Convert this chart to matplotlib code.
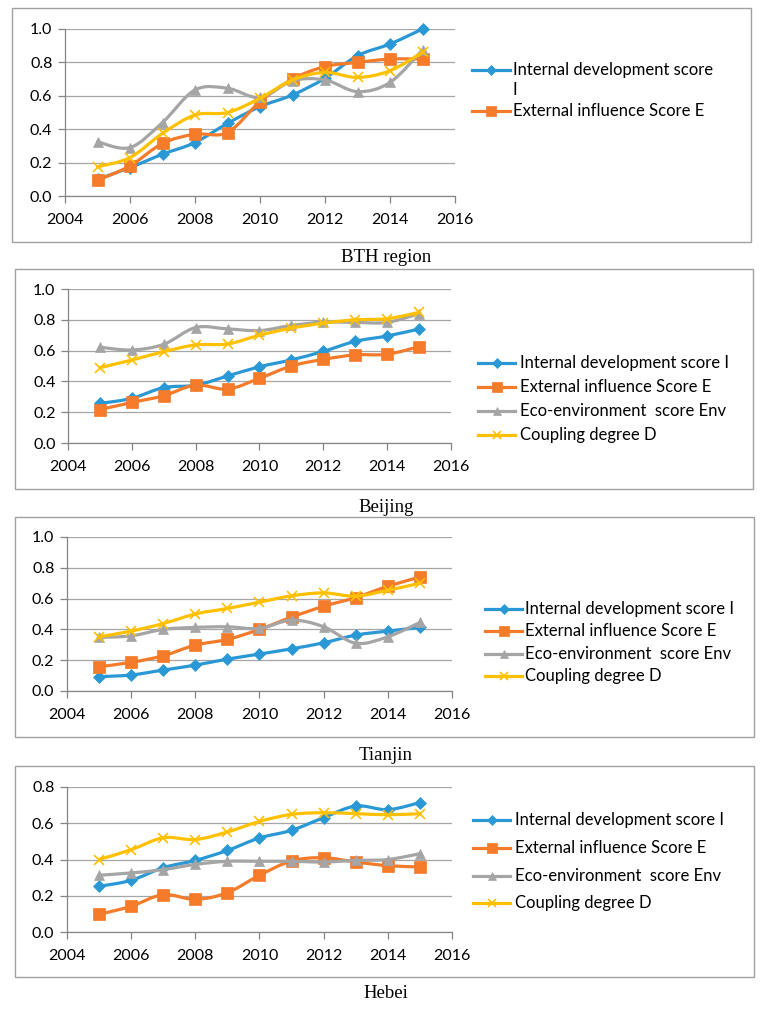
import numpy as np
import matplotlib
matplotlib.use('Agg')
import matplotlib.pyplot as plt
from matplotlib.path import Path
from matplotlib.patches import PathPatch, Rectangle
from matplotlib.lines import Line2D

plt.rcParams['font.family'] = ['Lato', 'DejaVu Sans']

years = [2005, 2006, 2007, 2008, 2009, 2010, 2011, 2012, 2013, 2014, 2015]

# BTH region
bth_I = [0.10, 0.17, 0.25, 0.32, 0.435, 0.535, 0.605, 0.705, 0.84, 0.91, 1.00]
bth_E = [0.095, 0.18, 0.315, 0.37, 0.38, 0.565, 0.70, 0.775, 0.80, 0.82, 0.82]
bth_Env = [0.325, 0.29, 0.44, 0.635, 0.645, 0.59, 0.69, 0.695, 0.625, 0.68, 0.875]
bth_D = [0.175, 0.23, 0.375, 0.485, 0.50, 0.585, 0.695, 0.74, 0.71, 0.75, 0.86]

# Beijing
bj_I = [0.257, 0.29, 0.36, 0.375, 0.435, 0.495, 0.54, 0.595, 0.66, 0.695, 0.74]
bj_E = [0.217, 0.263, 0.307, 0.376, 0.35, 0.42, 0.50, 0.543, 0.572, 0.576, 0.626]
bj_Env = [0.622, 0.604, 0.641, 0.75, 0.741, 0.73, 0.763, 0.785, 0.783, 0.783, 0.84]
bj_D = [0.489, 0.539, 0.593, 0.637, 0.643, 0.70, 0.746, 0.778, 0.80, 0.807, 0.848]

# Tianjin
tj_I = [0.093, 0.104, 0.136, 0.168, 0.207, 0.24, 0.274, 0.313, 0.363, 0.389, 0.413]
tj_E = [0.158, 0.186, 0.229, 0.298, 0.335, 0.40, 0.48, 0.55, 0.607, 0.68, 0.74]
tj_Env = [0.348, 0.358, 0.40, 0.413, 0.417, 0.406, 0.46, 0.417, 0.31, 0.352, 0.445]
tj_D = [0.352, 0.389, 0.438, 0.50, 0.536, 0.577, 0.618, 0.637, 0.616, 0.654, 0.70]

# Hebei
hb_I = [0.252, 0.285, 0.355, 0.395, 0.45, 0.519, 0.561, 0.631, 0.695, 0.675, 0.714]
hb_E = [0.097, 0.142, 0.206, 0.18, 0.217, 0.313, 0.392, 0.41, 0.386, 0.366, 0.359]
hb_Env = [0.313, 0.326, 0.344, 0.373, 0.39, 0.39, 0.39, 0.386, 0.395, 0.40, 0.432]
hb_D = [0.40, 0.454, 0.52, 0.51, 0.552, 0.61, 0.649, 0.658, 0.653, 0.647, 0.653]

names = ['Internal development score I', 'External influence Score E',
         'Eco-environment  score Env', 'Coupling degree D']
colors = ['#2B98D6', '#F47B2A', '#A5A5A5', '#FFC000']
markers = ['D', 's', '^', 'x']
msizes = [6, 8, 7.5, 7]

W, H = 765, 1011

def fx(px):
    return px / W

def fy(py):
    return 1 - py / H

# Excel style smoothed line: bezier segments through the points
def smooth_path(x, y):
    pts = np.column_stack([x, y]).astype(float)
    n = len(pts)
    verts = [pts[0]]
    codes = [Path.MOVETO]
    for i in range(n - 1):
        p0 = pts[max(i - 1, 0)]
        p1 = pts[i]
        p2 = pts[i + 1]
        p3 = pts[min(i + 2, n - 1)]
        verts += [p1 + (p2 - p0) / 6, p2 - (p3 - p1) / 6, p2]
        codes += [Path.CURVE4] * 3
    return Path(verts, codes)

fig = plt.figure(figsize=(W / 100, H / 100), dpi=100)

# panel layout in pixels: box, axes, legend, caption
panels = [
    dict(series=[bth_I, bth_E, bth_Env, bth_D], box=(12, 8, 751, 242),
         ax=(65, 29, 455, 196), ytop=1.0, caption='BTH region', cap_y=258,
         leg_x=(472, 510, 513), leg_rows=[70, 111], leg_n=2),
    dict(series=[bj_I, bj_E, bj_Env, bj_D], box=(15, 269, 753, 489),
         ax=(68, 289, 451, 443), ytop=1.0, caption='Beijing', cap_y=507,
         leg_x=(478, 515, 520), leg_rows=[363, 387, 411, 435], leg_n=4),
    dict(series=[tj_I, tj_E, tj_Env, tj_D], box=(15, 517, 754, 737),
         ax=(67, 537, 452, 691), ytop=1.0, caption='Tianjin', cap_y=755,
         leg_x=(485, 522, 525), leg_rows=[609, 631, 654, 676], leg_n=4),
    dict(series=[hb_I, hb_E, hb_Env, hb_D], box=(15, 766, 754, 977),
         ax=(67, 787, 452, 932), ytop=0.8, caption='Hebei', cap_y=993,
         leg_x=(473, 510, 515), leg_rows=[820, 848, 876, 903], leg_n=4),
]

for p in panels:
    bx0, by0, bx1, by1 = p['box']
    fig.add_artist(Rectangle((fx(bx0), fy(by1)), fx(bx1 - bx0), (by1 - by0) / H,
                             transform=fig.transFigure, facecolor='white',
                             edgecolor='#A0A0A0', lw=1.0, zorder=0))
    l, t, r, b = p['ax']
    ax = fig.add_axes([fx(l), fy(b), fx(r - l), (b - t) / H])
    ax.set_xlim(2004, 2016)
    ax.set_ylim(0, p['ytop'])
    ax.set_xticks(range(2004, 2017, 2))
    ax.set_yticks(np.arange(0, p['ytop'] + 0.01, 0.2))
    ax.yaxis.set_major_formatter(matplotlib.ticker.FormatStrFormatter('%.1f'))
    ax.patch.set_alpha(0)
    for s in ['top', 'right']:
        ax.spines[s].set_visible(False)
    for s in ['left', 'bottom']:
        ax.spines[s].set_color('#868686')
        ax.spines[s].set_linewidth(0.9)
    ax.tick_params(axis='both', direction='out', length=5, width=0.9, color='#868686',
                   labelsize=11.5, labelcolor='black', pad=4)
    ax.tick_params(axis='x', pad=7)
    ax.grid(axis='y', color='#A6A6A6', lw=0.9)
    ax.set_axisbelow(True)

    for k in range(4):
        vals = p['series'][k]
        path = smooth_path(years, vals)
        ax.add_patch(PathPatch(path, facecolor='none', edgecolor=colors[k], lw=2.3,
                               transform=ax.transData, zorder=3 + k, capstyle='round',
                               joinstyle='round'))
        ax.plot(years, vals, ls='none', marker=markers[k], ms=msizes[k], color=colors[k],
                mec=colors[k], mew=1.2 if k == 3 else 0.5, zorder=3 + k, clip_on=False)

    fig.text(fx(386), fy(p['cap_y']), p['caption'], ha='center', va='center',
             family=['Liberation Serif', 'DejaVu Serif'], fontsize=13.5)

    # legend drawn by hand (first panel's legend is cut to two entries)
    hx0, hx1, tx = p['leg_x']
    for i in range(p['leg_n']):
        ry = fy(p['leg_rows'][i])
        fig.add_artist(Line2D([fx(hx0), fx(hx1)], [ry, ry], transform=fig.transFigure,
                              color=colors[i], lw=2.3))
        fig.add_artist(Line2D([fx((hx0 + hx1) / 2)], [ry], transform=fig.transFigure,
                              ls='none', marker=markers[i], ms=msizes[i] * 0.85,
                              color=colors[i], mew=1.2 if i == 3 else 0.5))
        if p['leg_n'] == 2 and i == 0:
            fig.text(fx(tx), ry + 8 / H, 'Internal development score\nI', ha='left',
                     va='top', fontsize=12, linespacing=1.3)
            continue
        fig.text(fx(tx), ry, names[i], ha='left', va='center', fontsize=12)

fig.savefig('out.png', dpi=100)
